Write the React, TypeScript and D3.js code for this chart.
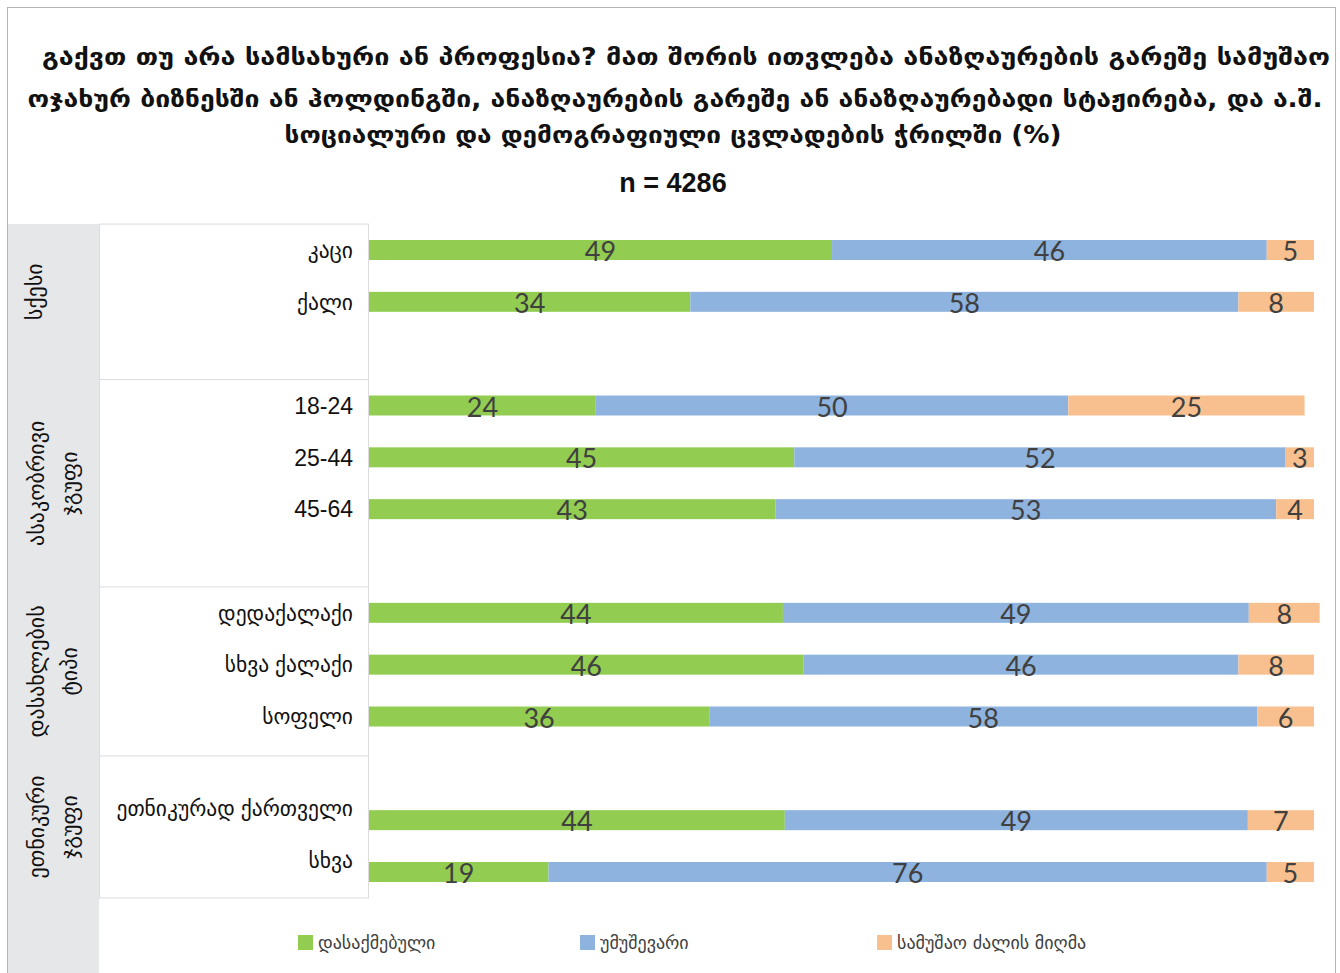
import React from "react";
import * as d3 from "d3";

const TITLE_LINES = [
  "გაქვთ თუ არა სამსახური ან პროფესია? მათ შორის ითვლება ანაზღაურების გარეშე სამუშაო",
  "ოჯახურ ბიზნესში ან ჰოლდინგში, ანაზღაურების გარეშე ან ანაზღაურებადი სტაჟირება, და ა.შ.",
  "სოციალური და დემოგრაფიული ცვლადების ჭრილში (%)",
];
const TITLE_WIDTHS = [1288, 1295, 777];
const SUBTITLE = "n = 4286";

const SERIES = ["დასაქმებული", "უმუშევარი", "სამუშაო ძალის მიღმა"];
const COLORS = ["#92cd52", "#8eb3de", "#f9c08f"];

const GROUPS = [
  { label: ["სქესი"], cats: ["კაცი", "ქალი"], labelShift: 0 },
  { label: ["ასაკობრივი", "ჯგუფი"], cats: ["18-24", "25-44", "45-64"], labelShift: 0 },
  { label: ["დასახლების", "ტიპი"], cats: ["დედაქალაქი", "სხვა ქალაქი", "სოფელი"], labelShift: 0 },
  { label: ["ეთნიკური", "ჯგუფი"], cats: ["ეთნიკურად ქართველი", "სხვა"], labelShift: -12 },
];

const EMPLOYED = [49, 34, 24, 45, 43, 43.8, 46, 36, 44, 19];
const UNEMPLOYED = [46, 58, 50, 52, 53, 49.3, 46, 58, 49, 76];
const OUTSIDE = [5, 8, 25, 3, 4, 7.5, 8, 6, 7, 5];

// group boundaries measured in row slots
const GROUP_BOUNDS = [0, 3, 7, 10.26, 13];

const W = 1340;
const H = 973;

export default function App() {
  const slots: string[] = [];
  GROUPS.forEach((g, gi) => {
    g.cats.forEach((c) => slots.push(c));
    if (gi < GROUPS.length - 1) slots.push("__gap" + gi);
  });
  const cats = GROUPS.flatMap((g) => g.cats);
  const labelShiftOf: Record<string, number> = {};
  GROUPS.forEach((g) => g.cats.forEach((c) => (labelShiftOf[c] = g.labelShift)));

  const y = d3.scalePoint<string>().domain(slots).range([250, 872]);
  const step = y.step();
  const x = d3.scaleLinear().domain([0, 100]).range([369, 1314]);
  const barH = 20;

  const rows = cats.map((c, i) => ({ cat: c, vals: [EMPLOYED[i], UNEMPLOYED[i], OUTSIDE[i]] }));
  const stack = d3.stack<any>().keys(["0", "1", "2"]).value((d, k) => d.vals[+k]);
  const stacked = stack(rows as any);

  const topY = (y(slots[0]) as number) - step / 2;
  const boundY = GROUP_BOUNDS.map((b) => topY + b * step);

  const georgian = "'DejaVu Sans', 'Noto Sans', sans-serif";
  const latinFirst = "'Liberation Sans', Arial, 'DejaVu Sans', sans-serif";

  const legendX = [298, 580, 877];

  return (
    <svg width={W} height={H} style={{ position: "absolute", left: 0, top: 0, background: "#fff" }}>
      <rect x={7.5} y={7.5} width={1328} height={H} fill="#fff" stroke="#b5b5b5" strokeWidth={1} />

      {TITLE_LINES.map((t, i) => (
        <text
          key={i}
          x={[686, 675, 673][i]}
          y={[65, 107, 143][i]}
          textAnchor="middle"
          fontFamily={georgian}
          fontWeight="bold"
          fontSize={24}
          textLength={TITLE_WIDTHS[i]}
          lengthAdjust="spacingAndGlyphs"
          fill="#111"
        >
          {t}
        </text>
      ))}
      <text x={673} y={192} textAnchor="middle" fontFamily={latinFirst} fontWeight="bold" fontSize={27} fill="#111">
        {SUBTITLE}
      </text>

      <rect x={8} y={boundY[0]} width={91} height={H - boundY[0]} fill="#e6e7e9" />
      <rect x={99.5} y={boundY[0]} width={269} height={boundY[4] - boundY[0]} fill="#fff" stroke="#dcdcdc" />
      {boundY.slice(1, 4).map((b, i) => (
        <line key={i} x1={99.5} x2={368.5} y1={b} y2={b} stroke="#dcdcdc" />
      ))}

      {GROUPS.map((g, gi) => {
        const cy = (boundY[gi] + boundY[gi + 1]) / 2 - (gi === 0 ? 10 : 0);
        const n = g.label.length;
        return g.label.map((l, li) => {
          const cx = n === 1 ? 34 : 36 + li * 33;
          return (
            <text
              key={gi + "-" + li}
              transform={`translate(${cx},${cy}) rotate(-90)`}
              textAnchor="middle"
              dy="0.35em"
              fontFamily={georgian}
              fontSize={22}
              fill="#111"
            >
              {l}
            </text>
          );
        });
      })}

      {cats.map((c) => (
        <text
          key={c}
          x={353}
          y={(y(c) as number) + labelShiftOf[c]}
          dy="0.36em"
          textAnchor="end"
          fontFamily={latinFirst}
          fontSize={/^[0-9]/.test(c) ? 23 : 21.5}
          fill="#111"
        >
          {c}
        </text>
      ))}

      {stacked.map((s, si) => (
        <g key={si}>
          {s.map((d: any, i: number) => {
            const cy = y(rows[i].cat) as number;
            return (
              <rect
                key={i}
                x={x(d[0])}
                y={cy - barH / 2}
                width={x(d[1]) - x(d[0])}
                height={barH}
                fill={COLORS[si]}
              />
            );
          })}
          {s.map((d: any, i: number) => {
            const cy = y(rows[i].cat) as number;
            return (
              <text
                key={"t" + i}
                x={(x(d[0]) + x(d[1])) / 2}
                y={cy + 11}
                textAnchor="middle"
                fontFamily="Lato, 'Open Sans', sans-serif"
                fontSize={27}
                fill="#404040"
              >
                {Math.round(rows[i].vals[si])}
              </text>
            );
          })}
        </g>
      ))}

      {SERIES.map((s, i) => (
        <g key={s}>
          <rect x={legendX[i]} y={935} width={15} height={15} fill={COLORS[i]} />
          <text x={legendX[i] + 20} y={949} fontFamily={georgian} fontSize={18} fill="#404040">
            {s}
          </text>
        </g>
      ))}
    </svg>
  );
}
